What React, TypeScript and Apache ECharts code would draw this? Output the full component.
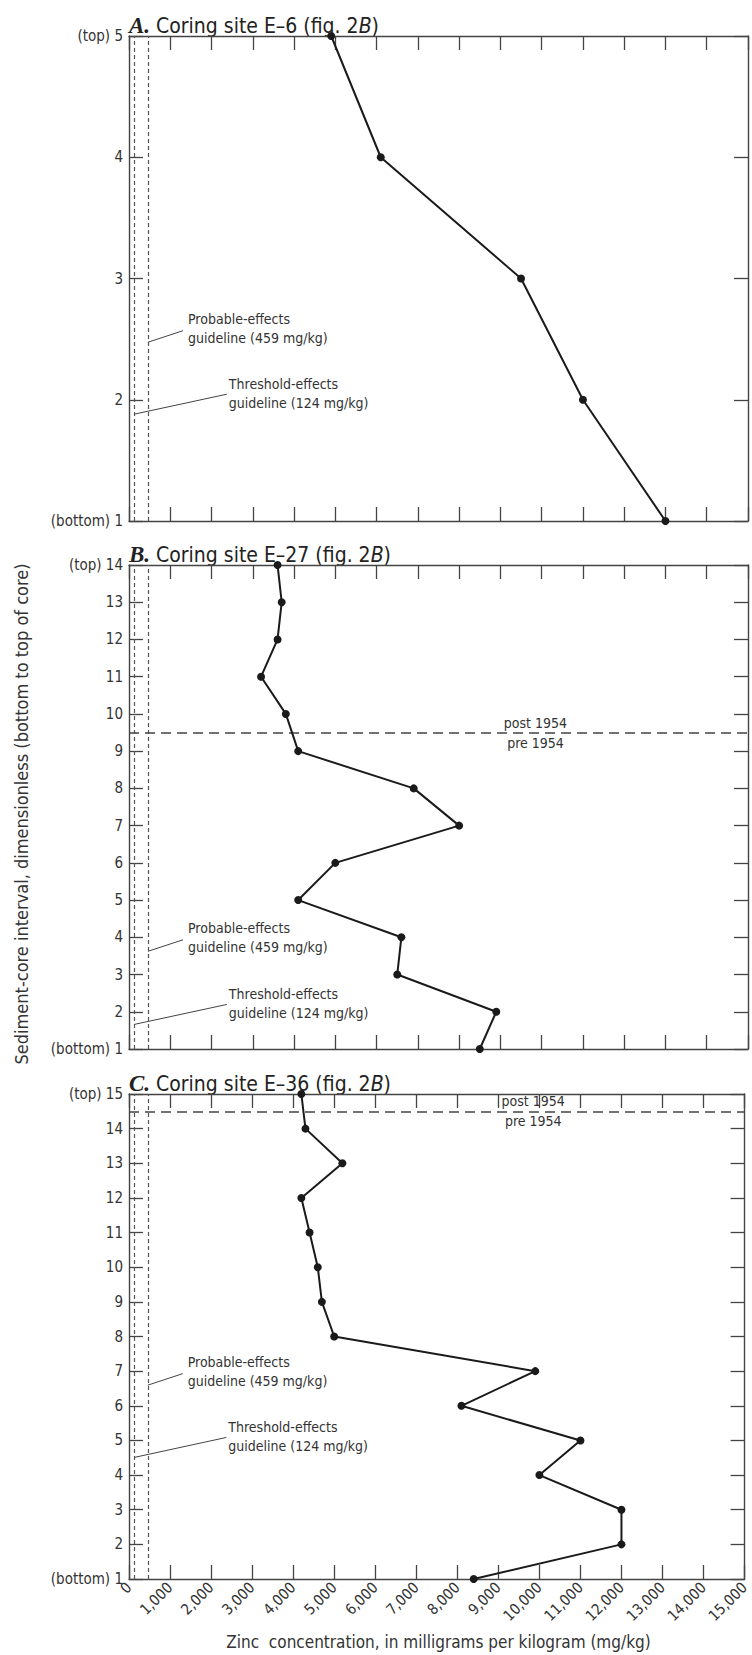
import React, { useEffect, useRef } from "react";
import * as echarts from "echarts";

// ---------- data ----------
const X_MIN = 0;
const X_MAX = 15000;
const X_STEP = 1000;

const intervalsA = [1, 2, 3, 4, 5];
const zincA = [13000, 11000, 9500, 6100, 4900];

const intervalsB = [1, 2, 3, 4, 5, 6, 7, 8, 9, 10, 11, 12, 13, 14];
const zincB = [8500, 8900, 6500, 6600, 4100, 5000, 8000, 6900, 4100, 3800, 3200, 3600, 3700, 3600];

const intervalsC = [1, 2, 3, 4, 5, 6, 7, 8, 9, 10, 11, 12, 13, 14, 15];
const zincC = [8400, 12000, 12000, 10000, 11000, 8100, 9900, 5000, 4700, 4600, 4400, 4200, 5200, 4300, 4200];

const probableGuideline = 459;
const thresholdGuideline = 124;

const panelLetters = ["A", "B", "C"];
const panelSites = ["E–6", "E–27", "E–36"];
const eraBoundaries = [null, 9.5, 14.5];

// ---------- layout / style ----------
const FONT = "'Liberation Sans Narrow', 'DejaVu Sans Condensed', 'Arial Narrow', 'Roboto Condensed', sans-serif";
const SERIF = "'Liberation Serif', 'DejaVu Serif', serif";
const AXIS_COLOR = "#444";
const TEXT_COLOR = "#333";
const GRID_LEFT = 129;
const GRID_WIDTH = 619;

const panelLayout = [
  { top: 36, height: 485, probY: 2.59, threshY: 2.05 },
  { top: 565, height: 484, probY: 4.0, threshY: 2.21 },
  { top: 1094, height: 485, probY: 7.0, threshY: 5.1 },
];
const probTextX = 1430;
const threshTextX = 2420;
const eraLabelX = 9850;

const panelData = [
  { intervals: intervalsA, zinc: zincA },
  { intervals: intervalsB, zinc: zincB },
  { intervals: intervalsC, zinc: zincC },
];

export default function App() {
  const ref = useRef<HTMLDivElement>(null);

  useEffect(() => {
    document.body.style.margin = "0";
    if (!ref.current) return;
    const chart = echarts.init(ref.current, undefined, { renderer: "svg" });

    const grids: any[] = [];
    const xAxes: any[] = [];
    const yAxes: any[] = [];
    const series: any[] = [];

    panelData.forEach((pd, i) => {
      const lay = panelLayout[i];
      const yMax = pd.intervals[pd.intervals.length - 1];
      grids.push({ left: GRID_LEFT, width: GRID_WIDTH, top: lay.top, height: lay.height, containLabel: false });
      const isLast = i === panelData.length - 1;
      const commonX = {
        type: "value",
        gridIndex: i,
        min: X_MIN,
        max: X_MAX,
        interval: X_STEP,
        splitLine: { show: false },
        axisLine: { show: true, onZero: false, lineStyle: { color: AXIS_COLOR, width: 1.4 } },
        axisTick: { show: true, inside: true, length: 14, lineStyle: { color: AXIS_COLOR, width: 1.3 } },
      };
      xAxes.push({
        ...commonX,
        position: "bottom",
        axisLabel: {
          show: isLast,
          rotate: 45,
          margin: 6,
          fontSize: 15,
          fontFamily: FONT,
          color: TEXT_COLOR,
          showMinLabel: true,
          showMaxLabel: true,
          formatter: (v: number) => (v === 0 ? "0" : v.toLocaleString("en-US")),
        },
      });
      xAxes.push({ ...commonX, position: "top", axisLabel: { show: false } });
      const commonY = {
        type: "value",
        gridIndex: i,
        min: 1,
        max: yMax,
        interval: 1,
        splitLine: { show: false },
        axisLine: { show: true, onZero: false, lineStyle: { color: AXIS_COLOR, width: 1.4 } },
        axisTick: { show: true, inside: true, length: 14, lineStyle: { color: AXIS_COLOR, width: 1.3 } },
      };
      yAxes.push({
        ...commonY,
        position: "left",
        axisLabel: {
          show: true,
          margin: 6,
          fontSize: 15,
          fontFamily: FONT,
          color: TEXT_COLOR,
          showMinLabel: true,
          showMaxLabel: true,
          formatter: (v: number) => (v === yMax ? `(top) ${v}` : v === 1 ? `(bottom) ${v}` : `${v}`),
        },
      });
      yAxes.push({ ...commonY, position: "right", axisLabel: { show: false } });

      const markData: any[] = [
        { xAxis: thresholdGuideline, lineStyle: { type: [4, 3], color: "#555", width: 1.2 } },
        { xAxis: probableGuideline, lineStyle: { type: [4, 3], color: "#555", width: 1.2 } },
      ];
      const era = eraBoundaries[i];
      if (era !== null) {
        markData.push({ yAxis: era, lineStyle: { type: [10, 6], color: "#444", width: 1.5 } });
      }

      series.push({
        type: "line",
        xAxisIndex: 2 * i,
        yAxisIndex: 2 * i,
        data: pd.intervals.map((y, k) => [pd.zinc[k], y]),
        symbol: "circle",
        symbolSize: 8,
        lineStyle: { color: "#1a1a1a", width: 2 },
        itemStyle: { color: "#1a1a1a" },
        z: 5,
        markLine: {
          silent: true,
          symbol: ["none", "none"],
          label: { show: false },
          data: markData,
        },
      });
    });

    chart.setOption({
      animation: false,
      backgroundColor: "#fff",
      grid: grids,
      xAxis: xAxes,
      yAxis: yAxes,
      series,
    });

    const graphics: any[] = [];
    panelData.forEach((pd, i) => {
      const lay = panelLayout[i];
      const toPx = (x: number, y: number) => chart.convertToPixel({ seriesIndex: i }, [x, y]) as number[];
      // panel title
      graphics.push({
        type: "text",
        x: GRID_LEFT,
        y: lay.top + 1,
        style: {
          text: `{a|${panelLetters[i]}.}{b| Coring site ${panelSites[i]} (fig. 2}{i|B}{b|)}`,
          verticalAlign: "bottom",
          align: "left",
          fill: "#222",
          rich: {
            a: { fontFamily: SERIF, fontWeight: "bold", fontStyle: "italic", fontSize: 23, fill: "#222" },
            b: { fontFamily: FONT, fontSize: 21, fill: "#222" },
            i: { fontFamily: FONT, fontSize: 21, fontStyle: "italic", fill: "#222" },
          },
        },
      });
      // probable-effects annotation
      const pp = toPx(probTextX, lay.probY);
      const pl = toPx(probableGuideline, lay.probY);
      graphics.push({
        type: "text",
        x: pp[0],
        y: pp[1],
        style: {
          text: "Probable-effects\nguideline (459 mg/kg)",
          fontFamily: FONT,
          fontSize: 14,
          lineHeight: 19,
          fill: TEXT_COLOR,
          align: "left",
          verticalAlign: "middle",
        },
      });
      graphics.push({
        type: "line",
        shape: { x1: pl[0], y1: pl[1] + 14, x2: pp[0] - 5, y2: pp[1] + 2.5 },
        style: { stroke: "#444", lineWidth: 1 },
      });
      // threshold-effects annotation
      const tp = toPx(threshTextX, lay.threshY);
      const tl = toPx(thresholdGuideline, lay.threshY);
      graphics.push({
        type: "text",
        x: tp[0],
        y: tp[1],
        style: {
          text: "Threshold-effects\nguideline (124 mg/kg)",
          fontFamily: FONT,
          fontSize: 14,
          lineHeight: 19,
          fill: TEXT_COLOR,
          align: "left",
          verticalAlign: "middle",
        },
      });
      graphics.push({
        type: "line",
        shape: { x1: tl[0], y1: tl[1] + 20.5, x2: tp[0] - 2, y2: tp[1] + 0.5 },
        style: { stroke: "#444", lineWidth: 1 },
      });
      // era labels
      const era = eraBoundaries[i];
      if (era !== null) {
        const ep = toPx(eraLabelX, era);
        graphics.push({
          type: "text",
          x: ep[0],
          y: ep[1] - 10,
          style: { text: "post 1954", fontFamily: FONT, fontSize: 14, fill: TEXT_COLOR, align: "center", verticalAlign: "middle" },
        });
        graphics.push({
          type: "text",
          x: ep[0],
          y: ep[1] + 10,
          style: { text: "pre 1954", fontFamily: FONT, fontSize: 14, fill: TEXT_COLOR, align: "center", verticalAlign: "middle" },
        });
      }
    });
    // axis titles
    graphics.push({
      type: "text",
      x: 21,
      y: 814,
      rotation: Math.PI / 2,
      style: {
        text: "Sediment-core interval, dimensionless (bottom to top of core)",
        fontFamily: FONT,
        fontSize: 18,
        fill: TEXT_COLOR,
        align: "center",
        verticalAlign: "middle",
      },
    });
    graphics.push({
      type: "text",
      x: GRID_LEFT + GRID_WIDTH / 2,
      y: 1642,
      style: {
        text: "Zinc  concentration, in milligrams per kilogram (mg/kg)",
        fontFamily: FONT,
        fontSize: 17,
        fill: TEXT_COLOR,
        align: "center",
        verticalAlign: "middle",
      },
    });

    chart.setOption({ graphic: graphics });

    return () => {
      chart.dispose();
    };
  }, []);

  return <div ref={ref} style={{ width: 752, height: 1655 }} />;
}
